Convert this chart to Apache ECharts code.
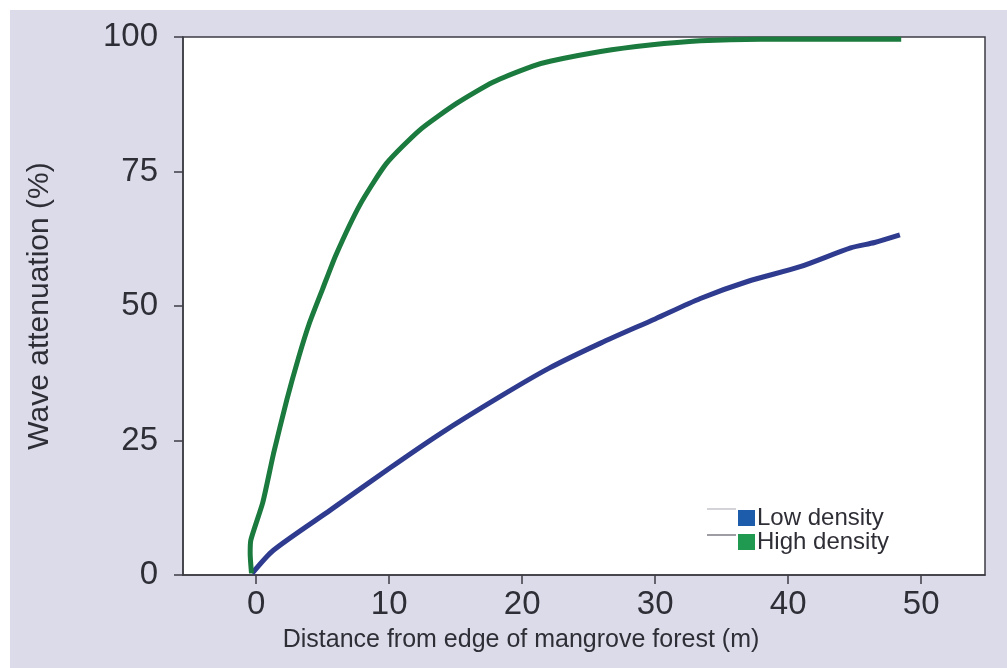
<!DOCTYPE html>
<html>
<head>
<meta charset="utf-8">
<script src="https://cdn.jsdelivr.net/npm/echarts@6/dist/echarts.min.js"></script>
<style>
  html, body { margin: 0; padding: 0; background: #ffffff; }
  #chart { width: 1007px; height: 668px; }
</style>
</head>
<body>
<div id="chart"></div>
<script>
// Distance from the forest edge (m) and wave attenuation (%) for each density
const highDist = [-0.35, -0.45, -0.4, 0.5, 1.3, 2.3, 3.2, 4.0, 5.0, 6.0, 7.8, 9.8, 12.3, 15.1, 17.8, 20.8, 22.1, 25.9, 29.6, 33.4, 37.9, 48.5];
const highAtt  = [0.3, 4.0, 6.5, 13.5, 22.5, 32.5, 40.5, 46.8, 53.2, 59.5, 68.8, 76.5, 82.7, 87.7, 91.6, 94.6, 95.5, 97.3, 98.5, 99.3, 99.6, 99.6];

const lowDist = [-0.3, 1.3, 5.6, 10.0, 13.8, 18.3, 22.0, 25.9, 30.0, 33.4, 37.0, 40.9, 44.7, 46.5, 48.4];
const lowAtt  = [0.3, 4.6, 12.1, 19.8, 26.2, 33.1, 38.4, 43.1, 47.6, 51.4, 54.6, 57.3, 60.8, 61.8, 63.2];

const seriesNames = ['Low density', 'High density'];
const xTicks = [0, 10, 20, 30, 40, 50];
const yTicks = [0, 25, 50, 75, 100];

const pairs = (xs, ys) => xs.map((x, i) => [x, ys[i]]);

const font = 'Liberation Sans, Arial, Helvetica, sans-serif';
const textCol = '#2e2e36';
const axisCol = '#3c3c44';

const chart = echarts.init(document.getElementById('chart'));
chart.setOption({
  backgroundColor: '#dcdbea',
  animation: false,
  grid: {
    left: 183, top: 37, right: 22, bottom: 93,
    show: true, backgroundColor: '#ffffff',
    borderColor: axisCol, borderWidth: 1.5
  },
  xAxis: {
    type: 'value', min: -5.5, max: 54.8,
    name: 'Distance from edge of mangrove forest (m)',
    nameLocation: 'middle', nameGap: 53,
    nameTextStyle: { fontFamily: font, fontSize: 25, color: textCol, padding: [0, 126, 0, 0] },
    axisLine: { onZero: false, lineStyle: { color: axisCol, width: 1.5 } },
    axisTick: { show: true, length: 9, inside: false, customValues: xTicks, lineStyle: { color: axisCol, width: 1.5 } },
    axisLabel: { customValues: xTicks, fontFamily: font, fontSize: 33, color: textCol, margin: 13 },
    splitLine: { show: false }
  },
  yAxis: {
    type: 'value', min: 0, max: 100,
    name: 'Wave attenuation (%)',
    nameLocation: 'middle', nameGap: 128,
    nameTextStyle: { fontFamily: font, fontSize: 30, color: textCol },
    axisLine: { show: true, onZero: false, lineStyle: { color: axisCol, width: 1.5 } },
    axisTick: { show: true, length: 9, customValues: yTicks, lineStyle: { color: axisCol, width: 1.5 } },
    axisLabel: { customValues: yTicks, fontFamily: font, fontSize: 33, color: textCol, margin: 25 },
    splitLine: { show: false }
  },
  legend: {
    orient: 'vertical', left: 733, top: 501, z: 5,
    data: seriesNames,
    icon: 'rect', itemWidth: 17, itemHeight: 16, itemGap: 0,
    textStyle: { fontFamily: font, fontSize: 24, color: textCol, lineHeight: 22, padding: [0, 0, 0, -3] },
    selectedMode: false
  },
  graphic: [
    { type: 'rect', z: 10, shape: { x: 0, y: 0, width: 1007, height: 10 }, style: { fill: '#ffffff' } },
    { type: 'rect', z: 10, shape: { x: 0, y: 0, width: 10, height: 668 }, style: { fill: '#ffffff' } },
    { type: 'line', z: 1, shape: { x1: 707, y1: 509, x2: 736, y2: 509 }, style: { stroke: '#d4d4d8', lineWidth: 2 } },
    { type: 'line', z: 1, shape: { x1: 707, y1: 535, x2: 736, y2: 535 }, style: { stroke: '#9d9da3', lineWidth: 2 } }
  ],
  series: [
    {
      name: 'Low density', type: 'line', data: pairs(lowDist, lowAtt),
      showSymbol: false, smooth: 0.25, z: 3,
      lineStyle: { color: '#2e3b8f', width: 5 },
      itemStyle: { color: '#1d5caa' }
    },
    {
      name: 'High density', type: 'line', data: pairs(highDist, highAtt),
      showSymbol: false, smooth: 0.2, z: 3,
      lineStyle: { color: '#1b7a3e', width: 5 },
      itemStyle: { color: '#1f9a50' }
    }
  ]
});
</script>
</body>
</html>
